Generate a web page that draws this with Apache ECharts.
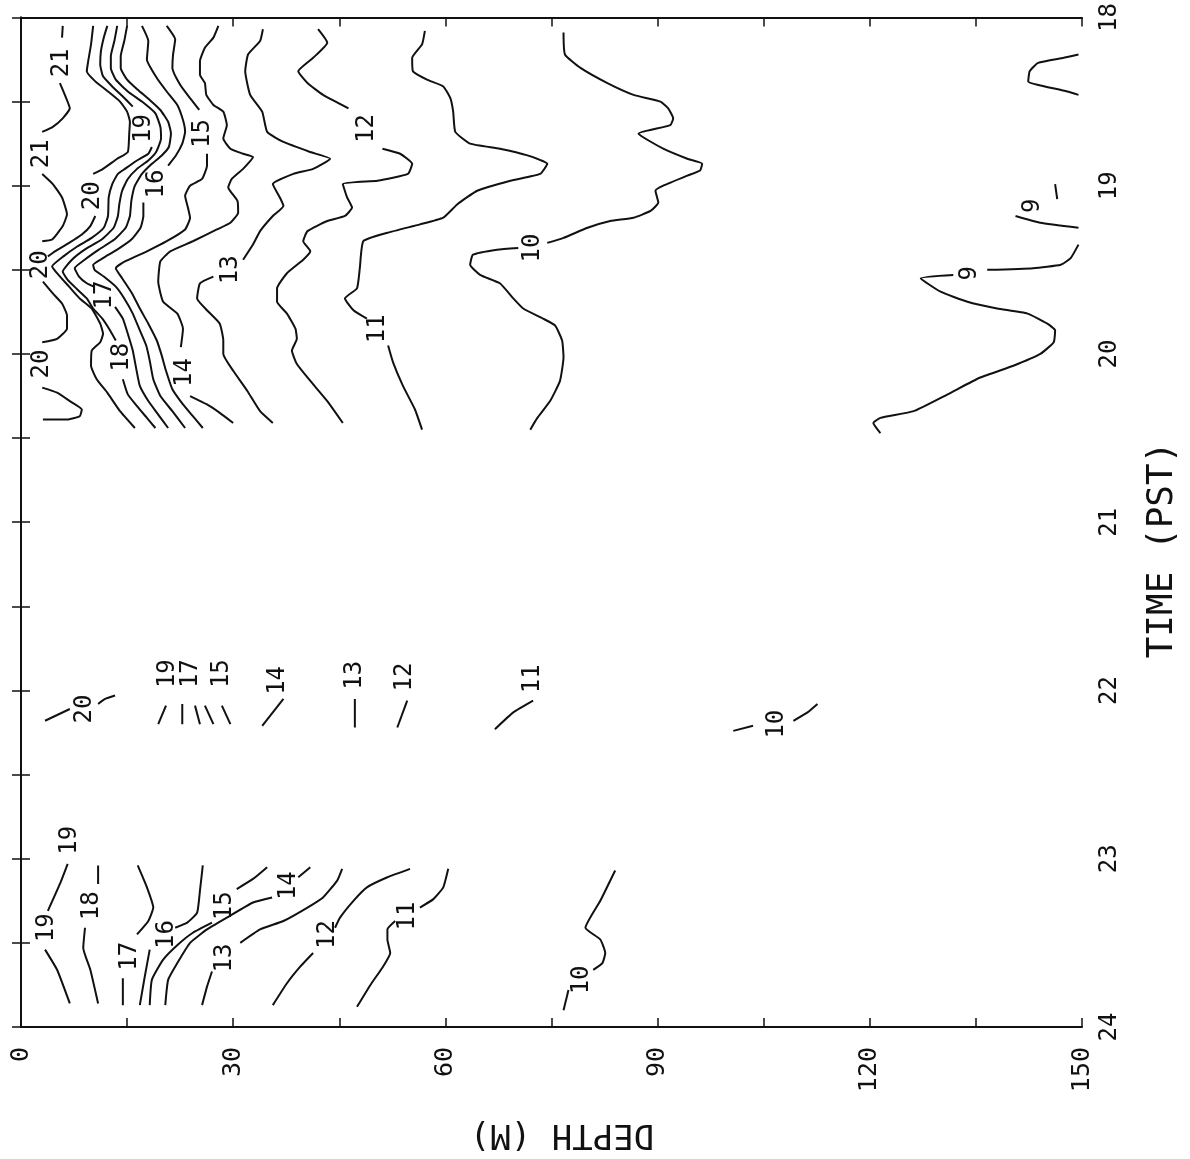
<!DOCTYPE html>
<html>
<head>
<meta charset="utf-8">
<script src="https://cdn.jsdelivr.net/npm/echarts@6/dist/echarts.min.js"></script>
<style>
html,body{margin:0;padding:0;background:#fff;}
#chart{width:1190px;height:1159px;}
</style>
</head>
<body>
<div id="chart"></div>
<script>
// Axis tick labels
const depthTickLabels = [0, 30, 60, 90, 120, 150];
const timeTickLabels = [18, 19, 20, 21, 22, 23, 24];

// Contour lines: each is a list of segments; points are [depth (m), time (h PST)]
const c21 = [
  [[5.9,18.05],[5.8,18.12]],
  [[5.5,18.39],[6.2,18.46],[6.9,18.54],[5.9,18.60],[4.5,18.65],[3.0,18.68]],
  [[3.0,18.93],[4.5,18.99],[5.8,19.07],[6.5,19.17],[5.9,19.24],[4.4,19.32],[3.0,19.33]]
];
const c20 = [
  [[10.2,18.05],[9.9,18.16],[9.5,18.26],[9.3,18.32],[10.5,18.38],[12.3,18.44],[14.0,18.50],[15.0,18.56],[15.4,18.62],[15.3,18.69],[15.1,18.80],[13.6,18.84],[11.6,18.90],[10.2,18.93]],
  [[10.5,19.18],[9.8,19.24],[8.6,19.29],[6.8,19.34],[4.8,19.39],[3.8,19.42]],
  [[3.1,19.57],[4.5,19.64],[5.8,19.70],[6.5,19.77],[6.5,19.85],[5.1,19.91],[3.0,19.93]],
  [[3.0,20.20],[5.1,20.23],[6.9,20.28],[8.6,20.33],[8.3,20.37],[6.5,20.39],[3.1,20.39]],
  [[3.4,22.18],[6.9,22.11]],
  [[10.9,22.08],[11.9,22.05],[13.3,22.03]]
];
const c19 = [
  [[12.2,18.05],[11.7,18.12],[11.3,18.20],[11.2,18.28],[11.6,18.35],[12.9,18.41],[14.4,18.47],[15.8,18.53]],
  [[18.5,18.77],[18.0,18.81],[16.4,18.85],[14.7,18.90],[13.7,18.93],[12.9,18.99],[12.4,19.07],[12.3,19.18],[11.7,19.25],[10.0,19.31],[8.0,19.36],[6.0,19.42],[4.4,19.48],[5.3,19.53],[6.8,19.60],[8.3,19.67],[10.0,19.73],[11.2,19.82],[11.6,19.88],[11.2,19.93],[10.0,19.98],[9.9,20.07],[10.7,20.15],[12.2,20.23],[14.0,20.34],[16.1,20.44]],
  [[19.4,22.20],[20.5,22.09]],
  [[6.6,23.03],[5.5,23.15],[3.8,23.31]],
  [[3.4,23.54],[5.1,23.66],[6.9,23.86]]
];
const c18 = [
  [[13.6,18.05],[13.2,18.14],[12.7,18.23],[12.7,18.30],[13.4,18.37],[15.1,18.44],[17.1,18.50],[19.0,18.57],[19.7,18.65],[19.8,18.72],[19.1,18.80],[18.0,18.85],[16.4,18.90],[15.1,18.96],[14.3,19.03],[13.9,19.11],[13.7,19.18],[13.1,19.25],[11.4,19.32],[9.0,19.38],[7.2,19.44],[5.9,19.51],[6.6,19.56],[7.8,19.61],[9.3,19.67],[10.2,19.73],[11.5,19.79],[12.6,19.86],[13.4,19.92]],
  [[14.4,20.15],[15.1,20.24],[16.4,20.31],[17.8,20.38],[19.0,20.44]],
  [[22.8,22.20],[22.8,22.08]],
  [[10.9,23.04],[10.9,23.15]],
  [[9.05,23.41],[8.8,23.53],[9.8,23.66],[10.9,23.86]]
];
const c17 = [
  [[15.0,18.05],[14.6,18.14],[14.1,18.23],[14.1,18.30],[15.0,18.37],[16.5,18.43],[18.2,18.49],[19.7,18.55],[20.8,18.62],[21.2,18.69],[20.9,18.77],[19.9,18.82],[18.5,18.87],[17.1,18.93],[16.1,19.00],[15.6,19.09],[15.4,19.18],[14.8,19.25],[13.2,19.32],[11.0,19.38],[9.0,19.44],[7.6,19.49],[8.2,19.54],[9.3,19.58],[10.3,19.60]],
  [[13.3,19.72],[14.4,19.79],[15.1,19.88],[15.8,19.98],[16.3,20.09],[16.8,20.19],[18.0,20.28],[19.4,20.36],[20.8,20.44]],
  [[25.3,22.20],[24.6,22.09]],
  [[16.5,23.04],[17.8,23.17],[18.7,23.29],[18.0,23.37],[16.4,23.45]],
  [[14.4,23.71],[14.4,23.87]]
];
const c16 = [
  [[17.1,18.05],[18.0,18.14],[17.8,18.25],[19.2,18.36],[20.6,18.44],[22.1,18.52],[22.9,18.61],[23.2,18.68],[22.8,18.75],[21.9,18.82],[20.8,18.88]],
  [[17.3,19.10],[17.3,19.18],[16.9,19.25],[15.6,19.32],[13.6,19.38],[11.6,19.43],[10.2,19.47],[10.4,19.50],[11.7,19.54],[13.4,19.60],[14.6,19.67],[15.8,19.76],[16.8,19.86],[17.7,19.95],[18.2,20.04],[18.7,20.15],[19.7,20.25],[21.4,20.34],[23.2,20.44]],
  [[27.2,22.20],[26.0,22.09]],
  [[25.7,23.04],[25.3,23.19],[24.9,23.32],[23.5,23.38],[21.8,23.41]],
  [[18.2,23.54],[17.5,23.70],[16.8,23.87]]
];
const c15 = [
  [[20.6,18.05],[21.8,18.13],[21.5,18.22],[21.4,18.30],[22.5,18.40],[23.9,18.48],[25.2,18.55]],
  [[26.3,18.81],[26.3,18.88],[25.6,18.96],[23.9,19.00],[23.2,19.06],[23.6,19.13],[23.9,19.19],[23.2,19.26],[20.6,19.33],[17.8,19.39],[14.7,19.45],[13.4,19.49],[14.3,19.55],[15.7,19.64],[16.8,19.73],[18.0,19.82],[19.2,19.92],[19.9,20.01],[20.5,20.10],[21.4,20.21],[22.9,20.30],[24.3,20.37],[25.7,20.44]],
  [[29.6,22.20],[28.4,22.09]],
  [[34.8,23.05],[32.8,23.12],[30.5,23.18]],
  [[27.0,23.38],[24.3,23.44],[22.2,23.51],[20.1,23.60],[18.5,23.72],[18.2,23.87]]
];
const c14 = [
  [[27.9,18.05],[27.2,18.12],[26.0,18.18],[25.3,18.26],[25.3,18.34],[26.0,18.39],[26.2,18.46],[27.2,18.52],[28.6,18.56],[29.1,18.64],[28.6,18.72],[29.6,18.78],[31.4,18.81],[32.8,18.83],[31.4,18.90],[29.8,18.96],[29.3,19.01],[30.6,19.09],[30.7,19.16],[29.6,19.22],[27.7,19.26],[24.3,19.33],[21.1,19.39],[19.7,19.45],[19.4,19.57],[20.1,19.69],[22.1,19.76],[22.9,19.85],[22.6,19.96]],
  [[23.9,20.25],[26.3,20.30],[28.1,20.35],[30.0,20.41]],
  [[34.1,22.21],[37.1,22.05]],
  [[40.9,23.05],[39.2,23.11]],
  [[35.5,23.23],[32.8,23.26],[29.1,23.35],[26.3,23.42],[23.9,23.50],[22.1,23.62],[20.8,23.72],[20.4,23.87]]
];
const c13 = [
  [[34.2,18.07],[33.8,18.14],[32.1,18.22],[31.7,18.32],[32.4,18.46],[34.1,18.56],[34.8,18.68],[37.1,18.74],[40.9,18.80],[43.7,18.84],[41.3,18.90],[38.5,18.93],[35.6,18.99],[36.6,19.07],[37.1,19.12],[35.6,19.18],[33.8,19.27],[32.8,19.35],[31.4,19.44]],
  [[27.2,19.54],[25.3,19.58],[24.9,19.67],[26.3,19.74],[28.1,19.82],[28.6,19.92],[28.6,20.00],[30.0,20.10],[32.0,20.22],[33.8,20.34],[35.6,20.41]],
  [[47.2,22.22],[47.2,22.05]],
  [[45.4,23.06],[44.7,23.13],[42.7,23.23],[40.5,23.29],[37.1,23.37],[33.8,23.42],[31.0,23.50]],
  [[27.0,23.67],[26.3,23.76],[25.6,23.87]]
];
const c12 = [
  [[42.0,18.07],[43.3,18.15],[41.3,18.24],[39.2,18.32],[40.5,18.39],[42.7,18.46],[46.3,18.54]],
  [[51.1,18.78],[53.6,18.81],[55.3,18.87],[54.7,18.93],[50.4,18.97],[45.5,18.99],[46.1,19.07],[46.8,19.13],[45.8,19.18],[43.3,19.21],[40.5,19.27],[39.9,19.33],[40.9,19.39],[39.9,19.44],[37.6,19.52],[36.2,19.61],[36.2,19.69],[37.6,19.76],[38.8,19.85],[39.0,19.91],[38.3,19.98],[39.0,20.06],[40.9,20.16],[43.3,20.28],[45.5,20.41]],
  [[53.2,22.22],[54.6,22.06]],
  [[55.0,23.06],[51.8,23.11],[48.9,23.17],[47.0,23.25],[45.1,23.35],[44.4,23.41]],
  [[41.3,23.56],[39.5,23.64],[37.6,23.74],[35.6,23.87]]
];
const c11 = [
  [[57.1,18.08],[56.7,18.16],[55.3,18.24],[55.4,18.32],[57.4,18.37],[59.7,18.41],[60.7,18.48],[61.1,18.56],[61.4,18.68],[63.5,18.75],[67.7,18.78],[71.6,18.82],[74.4,18.87],[73.4,18.93],[69.2,18.97],[64.5,19.03],[61.7,19.11],[59.7,19.19],[56.4,19.23],[51.8,19.28],[48.4,19.33],[47.9,19.49],[47.5,19.61],[45.8,19.67],[47.0,19.74],[48.9,19.79]],
  [[51.9,19.95],[52.6,20.05],[54.0,20.19],[55.7,20.33],[56.7,20.45]],
  [[67.0,22.23],[69.6,22.13],[72.4,22.06]],
  [[60.4,23.06],[59.7,23.17],[58.3,23.24],[56.4,23.29]],
  [[52.9,23.37],[51.8,23.42],[51.8,23.48],[52.2,23.56],[51.2,23.64],[49.4,23.75],[47.5,23.88]]
];
const c10 = [
  [[76.7,18.09],[76.9,18.22],[79.1,18.30],[82.9,18.39],[86.6,18.46],[90.4,18.50],[91.5,18.54],[92.2,18.60],[91.8,18.64],[87.3,18.69],[90.8,18.78],[94.2,18.84],[96.3,18.87],[96.0,18.91],[94.2,18.94],[90.8,19.00],[89.7,19.03],[90.1,19.10],[89.0,19.15],[86.6,19.19],[83.3,19.21],[80.1,19.25],[76.7,19.31],[74.4,19.34]],
  [[70.3,19.37],[67.3,19.38],[63.9,19.41],[63.5,19.47],[64.9,19.53],[67.7,19.58],[69.6,19.67],[71.0,19.73],[73.8,19.79],[75.5,19.83],[76.5,19.92],[76.7,20.02],[76.2,20.16],[74.8,20.28],[73.0,20.38],[72.0,20.45]],
  [[100.7,22.24],[103.5,22.21]],
  [[109.2,22.18],[111.2,22.13],[112.6,22.08]],
  [[84.0,23.07],[81.9,23.25],[79.8,23.41],[81.9,23.48],[82.6,23.56],[82.2,23.62],[80.9,23.66]],
  [[77.4,23.78],[76.7,23.90]]
];
const c9 = [
  [[149.5,18.22],[147.4,18.24],[143.8,18.27],[142.6,18.32],[142.4,18.38],[143.7,18.40],[147.9,18.44],[149.5,18.46]],
  [[146.2,18.99],[146.5,19.08]],
  [[140.6,19.18],[144.1,19.22],[149.5,19.25]],
  [[149.5,19.35],[148.4,19.43],[147.0,19.47],[143.1,19.49],[136.6,19.50]],
  [[131.8,19.53],[127.2,19.55],[130.0,19.63],[133.8,19.69],[138.0,19.73],[142.3,19.76],[145.1,19.82],[146.2,19.86],[146.0,19.93],[144.1,20.00],[140.3,20.07],[135.6,20.14],[131.0,20.24],[126.2,20.34],[121.5,20.38],[120.5,20.41],[121.5,20.47]]
];

// Contour labels: [value, depth, time]
const contourLabels = [
  [21,5.8,18.27],[21,3.0,18.81],
  [20,10.2,19.06],[20,2.8,19.47],[20,3.0,20.06],
  [19,17.4,18.66],[16,19.2,18.99],[15,25.7,18.69],
  [17,11.9,19.65],[18,14.3,20.02],[14,23.2,20.11],[13,29.6,19.50],
  [12,48.9,18.66],[11,50.5,19.85],[10,72.3,19.37],
  [9,143.0,19.12],[9,134.2,19.52],
  [20,9.0,22.11],[19,20.8,21.90],[17,24.0,21.90],[15,28.4,21.90],[14,36.3,21.94],
  [13,47.2,21.91],[12,54.3,21.92],[11,72.3,21.93],[10,106.9,22.20],
  [19,6.9,22.89],[19,3.7,23.41],[18,10.0,23.28],[17,15.4,23.58],[16,20.6,23.45],
  [15,28.8,23.28],[14,37.8,23.16],[13,28.8,23.59],[12,43.3,23.45],[11,54.7,23.34],[10,79.3,23.72]
];

const contourSets = [c21, c20, c19, c18, c17, c16, c15, c14, c13, c12, c11, c10, c9];

const FONT = '"DejaVu Sans Mono", "Liberation Mono", monospace';
const INK = '#111111';

const series = [];
contourSets.forEach(function (set) {
  set.forEach(function (seg) {
    series.push({
      type: 'line', data: seg, symbol: 'none', silent: true, smooth: 0.15,
      lineStyle: { color: INK, width: 2 }, xAxisIndex: 0, yAxisIndex: 0
    });
  });
});
series.push({
  type: 'scatter', xAxisIndex: 0, yAxisIndex: 0, silent: true,
  data: contourLabels.map(function (l) { return [l[1], l[2], l[0]]; }),
  symbolSize: 1, itemStyle: { color: 'rgba(255,255,255,0)', opacity: 1 },
  label: {
    show: true, position: 'inside', rotate: 90, opacity: 1,
    formatter: function (p) { return String(p.value[2]); },
    fontFamily: FONT, fontSize: 24, color: INK
  },
  labelLayout: { hideOverlap: false }
});

const axisLine = { show: true, lineStyle: { color: INK, width: 2 } };
const tick = { show: true, inside: true, length: 9, lineStyle: { color: INK, width: 1.5 } };

const chart = echarts.init(document.getElementById('chart'));
chart.setOption({
  animation: false,
  backgroundColor: '#ffffff',
  grid: { left: 21, top: 16, width: 1061, height: 1011 },
  xAxis: [
    { type: 'value', min: 0, max: 150, interval: 15, position: 'bottom',
      axisLine: axisLine, axisTick: tick, splitLine: { show: false },
      axisLabel: { rotate: 90, margin: 20, fontFamily: FONT, fontSize: 25, color: INK,
        formatter: function (v) { return depthTickLabels.indexOf(v) >= 0 ? String(v) : ''; } } },
    { type: 'value', min: 0, max: 150, interval: 15, position: 'top',
      axisLine: axisLine, axisTick: tick, splitLine: { show: false }, axisLabel: { show: false } }
  ],
  yAxis: [
    { type: 'value', min: 18, max: 24, interval: 0.5, inverse: true, position: 'right',
      axisLine: axisLine, axisTick: tick, splitLine: { show: false },
      axisLabel: { rotate: 90, margin: 16, fontFamily: FONT, fontSize: 24, color: INK,
        formatter: function (v) { return timeTickLabels.indexOf(v) >= 0 ? String(v) : ''; } } },
    { type: 'value', min: 18, max: 24, interval: 0.5, inverse: true, position: 'left',
      axisLine: axisLine, axisTick: tick, splitLine: { show: false }, axisLabel: { show: false } }
  ],
  graphic: [
    { type: 'text', x: 562, y: 1134, rotation: Math.PI,
      style: { text: 'DEPTH (M)', fontFamily: 'DejaVu Sans Mono', fontSize: 34, fill: INK, align: 'center', verticalAlign: 'middle' } },
    { type: 'text', x: 1163, y: 550, rotation: Math.PI / 2,
      style: { text: 'TIME (PST)', fontFamily: 'DejaVu Sans Mono', fontSize: 36, fill: INK, align: 'center', verticalAlign: 'middle' } }
  ],
  series: series
});
</script>
</body>
</html>
